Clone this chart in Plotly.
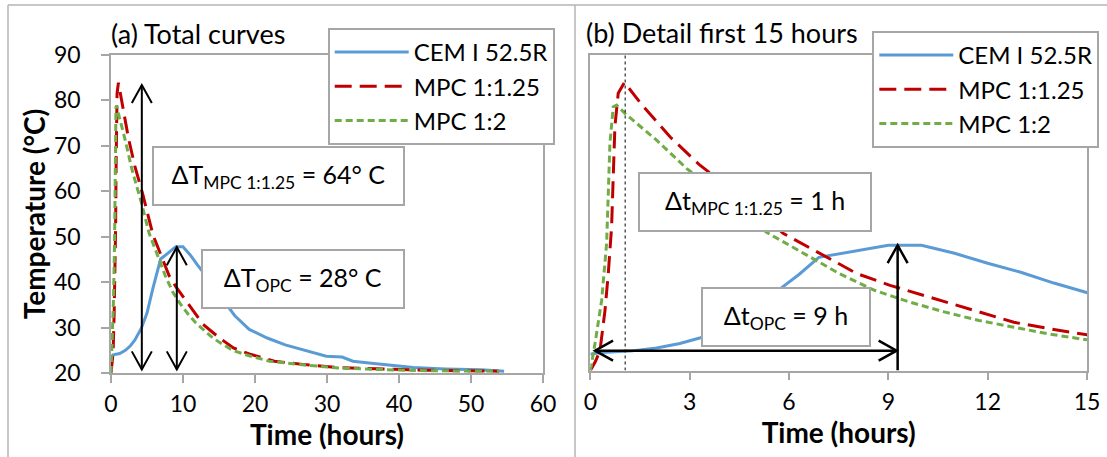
import plotly.graph_objects as go

W, H = 1107, 457

# ---------------- data ----------------
series_names = ["CEM I 52.5R", "MPC 1:1.25", "MPC 1:2"]

time_cem = [0.0, 0.3, 1.2, 2.0, 2.7, 3.3, 4.2, 5.0, 5.8, 6.3, 6.9, 8.0, 9.0, 10.0,
            11.0, 12.0, 13.0, 14.0, 15.0, 17.2, 19.2, 21.7, 24.2, 26.6, 29.9, 32.1,
            33.6, 36.5, 40.5, 42.0, 46.4, 51.4, 54.6]
temp_cem = [23.6, 24.0, 24.3, 25.0, 26.0, 27.2, 29.8, 33.2, 38.5, 41.3, 45.1, 46.5, 47.8, 47.8,
            46.0, 43.8, 41.8, 39.4, 37.3, 32.6, 29.6, 27.7, 26.2, 25.1, 23.7, 23.5,
            22.6, 22.1, 21.5, 21.2, 20.9, 20.7, 20.4]

time_mpc125 = [0.0, 0.15, 0.29, 0.44, 0.54, 0.64, 0.69, 0.74, 0.84, 1.03, 1.56, 2.41, 3.3,
               4.4, 5.83, 7.1, 8.05, 9.05, 10.26, 11.74, 12.79, 13.85, 15.0, 17.0, 19.2,
               22.7, 26.6, 31.6, 36.5, 44.0, 53.9]
temp_mpc125 = [20.0, 22.0, 24.4, 33.3, 41.5, 51.8, 63.0, 74.1, 81.5, 83.9, 78.9, 71.8, 65.6,
               59.4, 50.4, 45.2, 41.5, 38.9, 36.3, 33.0, 30.7, 29.3, 27.8, 25.5, 24.2,
               22.6, 21.9, 21.2, 20.9, 20.6, 20.4]

time_mpc12 = [0.0, 0.14, 0.34, 0.49, 0.54, 0.59, 0.69, 0.79, 1.05, 2.0, 2.91, 4.2, 5.31,
              6.47, 7.52, 8.58, 9.63, 10.69, 11.74, 12.79, 13.85, 15.0, 17.0, 19.2, 22.0,
              26.6, 31.6, 36.5, 44.0, 53.9]
temp_mpc12 = [20.0, 26.0, 35.6, 48.2, 59.3, 70.4, 78.5, 78.9, 77.0, 71.1, 64.8, 57.6, 50.7,
              45.9, 41.5, 37.8, 35.2, 33.0, 31.1, 29.6, 28.1, 26.8, 24.9, 23.8, 22.6,
              21.8, 21.1, 20.8, 20.5, 20.4]

x_ticks_a = [0, 10, 20, 30, 40, 50, 60]
x_ticks_b = [0, 3, 6, 9, 12, 15]
y_ticks = [20, 30, 40, 50, 60, 70, 80, 90]

panel_titles = ["(a) Total curves", "(b) Detail first 15 hours"]
box_texts = ["ΔT<sub>MPC 1:1.25</sub> = 64° C", "ΔT<sub>OPC</sub> = 28° C",
             "Δt<sub>MPC 1:1.25</sub> = 1 h", "Δt<sub>OPC</sub> = 9 h"]

# ---------------- styles ----------------
FONT = "Lato"
colors = ["#5B9BD5", "#C00000", "#70AD47"]
dashes = ["solid", "17px,8px", "7px,4px"]
GRAY = "#A6A6A6"
FRAME = "#B4B4B4"


def px(x):
    return x / W


def py(y):
    return 1 - y / H


fig = go.Figure()

xs = [time_cem, time_mpc125, time_mpc12]
ys = [temp_cem, temp_mpc125, temp_mpc12]
for panel, (xa, ya, lg) in enumerate([("x", "y", "legend"), ("x2", "y2", "legend2")]):
    for i in range(3):
        fig.add_trace(go.Scatter(
            x=xs[i], y=ys[i], name=series_names[i], mode="lines",
            line=dict(color=colors[i], width=3, dash=dashes[i]),
            xaxis=xa, yaxis=ya, legend=lg, showlegend=True))

axis_common = dict(showgrid=False, zeroline=False, showline=True, mirror=True,
                   linecolor=GRAY, linewidth=1.5, tickcolor=GRAY, tickwidth=1.5,
                   automargin=False,
                   tickfont=dict(family=FONT, size=23, color="black"))

title_font = dict(family=FONT, size=28, color="black", weight="bold")

fig.update_layout(
    width=W, height=H, margin=dict(l=0, r=0, t=0, b=0, autoexpand=False),
    paper_bgcolor="white", plot_bgcolor="white",
    font=dict(family=FONT, color="black"),
    xaxis=dict(domain=[px(111), px(543)], range=[0, 60], tickvals=x_ticks_a,
               ticks="outside", ticklen=8, ticklabelstandoff=2, anchor="y",
               title=dict(text="Time (hours)", font=title_font, standoff=6),
               **axis_common),
    yaxis=dict(domain=[py(373), py(55)], range=[20, 90], tickvals=y_ticks,
               ticks="outside", ticklen=8, ticklabelstandoff=16, anchor="x",
               title=dict(text="Temperature (°C)", font=title_font, standoff=0),
               **axis_common),
    xaxis2=dict(domain=[px(590.4), px(1087)], range=[0, 15], tickvals=x_ticks_b,
                ticks="outside", ticklen=8, ticklabelstandoff=2, anchor="y2",
                title=dict(text="Time (hours)", font=title_font, standoff=8),
                **axis_common),
    yaxis2=dict(domain=[py(370.5), py(55)], range=[20, 90], tickvals=y_ticks,
                ticks="", showticklabels=False, anchor="x2", **axis_common),
    legend=dict(x=px(327.7), y=py(28), xanchor="left", yanchor="top",
                bgcolor="white", bordercolor=GRAY, borderwidth=2,
                font=dict(family=FONT, size=24, color="black"), itemwidth=74,
                tracegroupgap=0),
    legend2=dict(x=px(872.3), y=py(31), xanchor="left", yanchor="top",
                 bgcolor="white", bordercolor=GRAY, borderwidth=2,
                 font=dict(family=FONT, size=24, color="black"), itemwidth=74,
                 tracegroupgap=0),
)

# panel titles
for t, (x0, yc) in zip(panel_titles, [(109, 33), (583.7, 32)]):
    fig.add_annotation(text=t, xref="paper", yref="paper", x=px(x0), y=py(yc),
                       xanchor="left", yanchor="middle", showarrow=False,
                       font=dict(family=FONT, size=27, color="black"))

# annotation boxes: (left, top, right, bottom) in pixels
boxes = [(151.8, 146, 404.6, 206), (201, 249, 404.6, 309),
         (637.5, 172, 871.6, 232), (701.3, 287.3, 871.2, 347.3)]
for t, (l, tp, r, b) in zip(box_texts, boxes):
    fig.add_annotation(text=t, xref="paper", yref="paper", x=px((l + r) / 2), y=py((tp + b) / 2),
                       xanchor="center", yanchor="middle", showarrow=False,
                       width=r - l - 4, height=b - tp - 4, borderpad=0, borderwidth=2,
                       bordercolor=GRAY, bgcolor="white", align="center", valign="middle",
                       font=dict(family=FONT, size=25, color="black"))

# outer chart frames
for (x0, y0, x1, y1) in [(8, 457, 8, 5), (8, 5, 1107, 5), (575, 457, 575, 5)]:
    fig.add_shape(type="line", xref="paper", yref="paper", x0=px(x0), y0=py(y0),
                  x1=px(x1), y1=py(y1), line=dict(color=FRAME, width=1.5))

# arrows: (xref, yref, x0, y0, x1, y1, heads, width)
arrows = [("x", "y", 4.28, 20.8, 4.28, 83.4, "both", 2),
          ("x", "y", 9.14, 20.8, 9.14, 47.7, "both", 2),
          ("x2", "y2", 0.14, 24.4, 9.25, 24.4, "both", 2.5),
          ("x2", "y2", 9.28, 20.0, 9.28, 47.8, "end", 2.5)]
HL, HW = 18, 10
for xr, yr, x0, y0, x1, y1, heads, lw in arrows:
    fig.add_shape(type="line", xref=xr, yref=yr, x0=x0, y0=y0, x1=x1, y1=y1,
                  line=dict(color="black", width=lw))
    vertical = x0 == x1
    ends = [(x1, y1, 1)] + ([(x0, y0, -1)] if heads == "both" else [])
    for ex, ey, sgn in ends:
        if vertical:
            path = f"M {-HW},{-sgn*HL} L 0,0 L {HW},{-sgn*HL}"
        else:
            path = f"M {-sgn*HL},{HW} L 0,0 L {-sgn*HL},{-HW}"
        fig.add_shape(type="path", xref=xr, yref=yr, xsizemode="pixel", ysizemode="pixel",
                      xanchor=ex, yanchor=ey, path=path,
                      line=dict(color="black", width=lw))

# dotted marker line at the MPC 1:1.25 peak time
fig.add_shape(type="line", xref="x2", yref="y2", x0=1.05, x1=1.05, y0=20, y1=90,
              line=dict(color="black", width=1, dash="dot"))

fig.write_html("out.html")
